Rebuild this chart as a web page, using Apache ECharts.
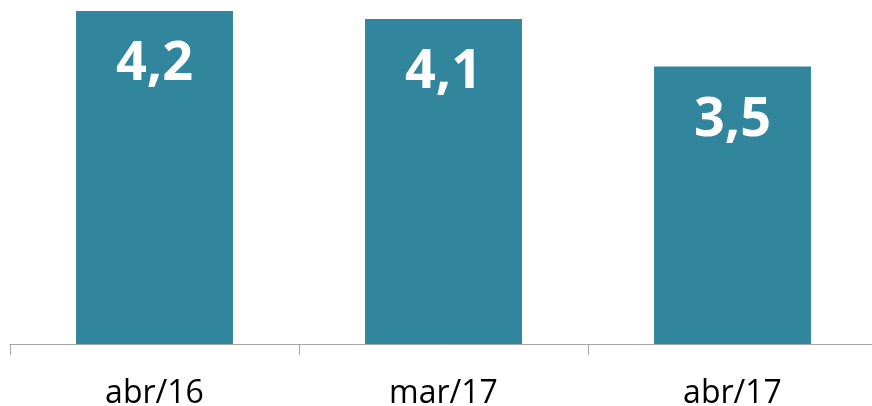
<!DOCTYPE html>
<html>
<head>
<meta charset="utf-8">
<script src="https://cdn.jsdelivr.net/npm/echarts@6/dist/echarts.min.js"></script>
<style>html,body{margin:0;padding:0;background:#fff}#c{width:872px;height:406px}</style>
</head>
<body>
<div id="c"></div>
<script>
const categories = ['abr/16', 'mar/17', 'abr/17'];
const values = [4.2, 4.1, 3.5];

const chart = echarts.init(document.getElementById('c'));
chart.setOption({
  animation: false,
  grid: { left: 10, right: -5, top: 0, bottom: 62, containLabel: false, outerBoundsMode: 'none' },
  xAxis: {
    type: 'category',
    data: categories,
    axisLine: { show: true, lineStyle: { color: '#A6A6A6', width: 1 } },
    axisTick: { show: true, length: 11, lineStyle: { color: '#A6A6A6', width: 1 } },
    axisLabel: { color: '#000', fontFamily: 'Open Sans', fontSize: 32, margin: 34 }
  },
  yAxis: {
    type: 'value', min: 0, max: 4.34, show: false, splitLine: { show: false }
  },
  series: [{
    type: 'bar',
    data: values,
    barWidth: '54.3%',
    itemStyle: { color: '#31859C' },
    label: {
      show: true,
      position: 'insideTop',
      distance: 27,
      color: '#fff',
      fontFamily: 'Open Sans',
      fontWeight: 'bold',
      fontSize: 54,
      formatter: p => String(p.value).replace('.', ',')
    }
  }]
});
</script>
</body>
</html>
